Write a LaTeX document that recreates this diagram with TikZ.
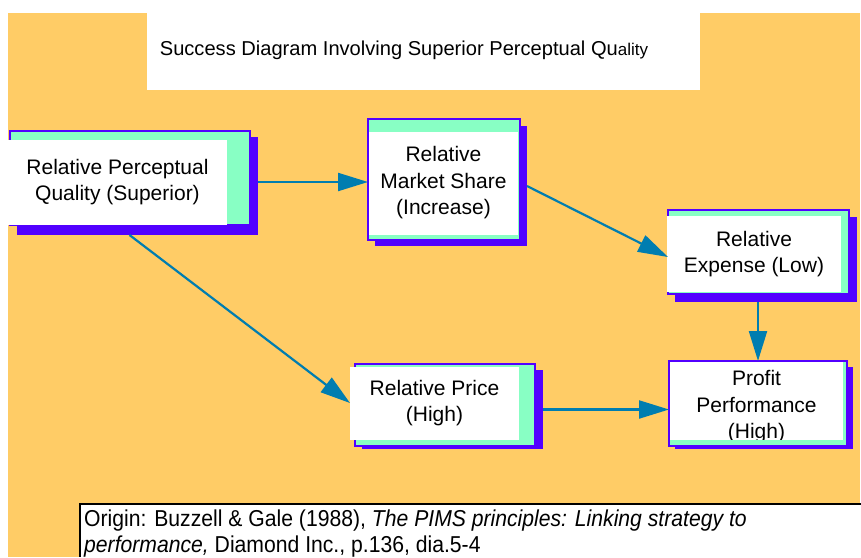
\documentclass[tikz,border=0pt]{standalone}
\usepackage{fontspec}
\setmainfont{Liberation Sans}
\newfontfamily\narrowfont[FakeStretch=0.92]{Liberation Sans}
\usetikzlibrary{fit,arrows.meta,calc}
\definecolor{bgorange}{HTML}{FFCC66}
\definecolor{boxpurple}{HTML}{5200FF}
\definecolor{panelgreen}{HTML}{88FFC4}
\definecolor{arrowblue}{HTML}{007DB0}
\tikzset{
  shadowbox/.style={fill=boxpurple, draw=none, inner sep=0pt, outer sep=0pt},
  panel/.style={fill=panelgreen, draw=boxpurple, line width=1.5pt, inner sep=0pt, outer sep=0pt},
  card/.style={fill=white, inner sep=0pt, outer sep=0pt, align=center,
               font=\fontsize{21}{26.5}\selectfont},
  link/.style={draw=arrowblue, line width=2.2pt, -{Triangle[length=30pt,width=18pt]}},
}
\begin{document}
\begin{tikzpicture}[x=1pt,y=-1pt]
\useasboundingbox (0,0) rectangle (861,557);
% background and title panel
\fill[bgorange] (8,13) rectangle (860,557);
\fill[white] (147,0) rectangle (700,90);
\node[inner sep=0pt, font=\fontsize{20.1}{24}\selectfont] (title) at (404,50)
  {Success Diagram Involving Superior Perceptual Qu{\fontsize{17}{20}\selectfont ality}};

% box 1
\node[shadowbox, fit={(17,137) (258,235)}] (s1) {};
\node[panel, fit={(10,131) (250,225)}] (p1) {};
\node[card, minimum width=219pt, minimum height=85pt] (w1) at (117.5,182)
  {Relative Perceptual\\Quality (Superior)};
% box 2
\node[shadowbox, fit={(375,126) (527,246)}] (s2) {};
\node[panel, fit={(368,119) (520,240)}] (p2) {};
\node[card, minimum width=149pt, minimum height=103pt] (w2) at (443.5,183)
  {Relative\\Market Share\\(Increase)};
% box 3
\node[shadowbox, fit={(675,217) (857,302)}] (s3) {};
\node[panel, fit={(668,210) (849,294)}] (p3) {};
\node[card, minimum width=174pt, minimum height=76pt] (w3) at (754,254)
  {Relative\\Expense (Low)};
% box 4
\node[shadowbox, fit={(362,370) (543,449)}] (s4) {};
\node[panel, fit={(355,364) (535,446)}] (p4) {};
\node[card, minimum width=169pt, minimum height=73pt] (w4) at (434.5,403)
  {Relative Price\\(High)};
% box 5 (its last line runs past the white card and is cut off)
\node[shadowbox, fit={(675,367) (853,449)}] (s5) {};
\node[panel, fit={(669,361) (847,446)}] (p5) {};
\begin{scope}
  \clip (670,362) rectangle (843,439);
  \node[card, minimum width=173pt, minimum height=90pt] (w5) at (756.5,407)
    {Profit\\Performance\\(High)};
\end{scope}

% connectors
\draw[link] (s1.east |- w1.west) -- (p2.west |- w1.west);
\draw[link] (s2.east) -- ($(p3.west)+(0,5)$);
\draw[link] (s3.south -| p5.north) -- (p5.north);
\draw[link] ($(s1.south)+(-8,0)$) -- (w4.west);
\draw[link] (s4.east) -- (p5.west |- s4.east);

% citation
\fill[white] (80,504) rectangle (861,557);
\draw[line width=1.5pt] (861,504) -- (80,504) -- (80,557);
\node[anchor=base west, inner sep=0pt, align=left,
      font=\narrowfont\fontsize{23}{26}\selectfont] (cite) at (84,552)
  {Origin: Buzzell \& Gale (1988), \textit{The PIMS principles: Linking strategy to}\\
   \textit{performance,} Diamond Inc., p.136, dia.5-4};
\end{tikzpicture}
\end{document}
